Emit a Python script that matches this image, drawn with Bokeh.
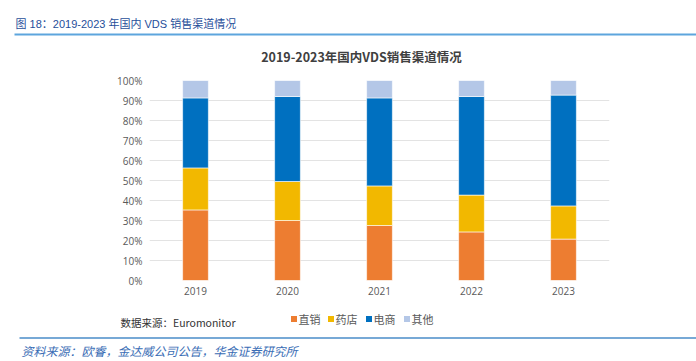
from bokeh.plotting import figure
from bokeh.models import FactorRange, Range1d, NumeralTickFormatter, FixedTicker
from bokeh.core.properties import value
from bokeh.embed import file_html
from bokeh.resources import INLINE

years = ["2019", "2020", "2021", "2022", "2023"]
direct = [35.3, 30.0, 27.5, 24.3, 20.7]
pharmacy = [21.0, 19.5, 19.8, 18.4, 16.6]
ecommerce = [35.0, 42.5, 44.0, 49.3, 55.4]
other = [8.7, 8.0, 8.7, 8.0, 7.3]
series_names = ["直销", "药店", "电商", "其他"]
colors = ["#ED7D31", "#F2B800", "#0070C0", "#B4C7E7"]
y_ticks = [i / 10 for i in range(11)]

header_text = "图 18：2019-2023 年国内 VDS 销售渠道情况"
chart_title = "2019-2023年国内VDS销售渠道情况"
source_text = "数据来源：Euromonitor"
footer_text = "资料来源：欧睿，金达威公司公告，华金证券研究所"

CJK = "Noto Sans CJK SC"
ARIAL_CJK = "'Liberation Sans', 'Noto Sans CJK SC'"
W = 696
H_TOP, H_MID, H_BOT = 70, 232, 57   # canvas bands: 0-70, 70-302, 302-359
Y_MID0 = H_TOP
Y_BOT0 = H_TOP + H_MID


def blank(height, y0):
    f = figure(width=W, height=height, x_range=Range1d(0, W), y_range=Range1d(y0 + height, y0),
               x_axis_type=None, y_axis_type=None, output_backend="svg", toolbar_location=None,
               min_border=0)
    f.outline_line_color = None
    f.grid.visible = False
    return f


def txt(f, x, y, text, size, color, style="normal", align="left", font=CJK):
    f.text(x=[x], y=[y], text=[text], text_font=value(font), text_font_size=size,
           text_color=color, text_font_style=style, text_align=align, text_baseline="middle")


# ---- header band
top = blank(H_TOP, 0)
txt(top, 15, 23, header_text, "11px", "#1F4E9A", font=ARIAL_CJK)
top.segment(x0=[14], y0=[34], x1=[W], y1=[34], line_color="#5DA5DD", line_width=2)
txt(top, 361, 56, chart_title, "12.5px", "#404040", style="bold", align="center")

# ---- chart band
FL, FR = 149, 609
p = figure(width=W, height=H_MID, x_range=FactorRange(*years), y_range=Range1d(0, 1),
           output_backend="svg", toolbar_location=None,
           min_border_left=FL, min_border_right=W - FR, min_border_top=80 - Y_MID0,
           min_border_bottom=Y_MID0 + H_MID - 280)
p.outline_line_color = None

data = {"years": years}
keys = ["direct", "pharmacy", "ecommerce", "other"]
for k, vals in zip(keys, [direct, pharmacy, ecommerce, other]):
    data[k] = [v / 100 for v in vals]
p.vbar_stack(keys, x="years", width=0.28, color=colors, source=data, line_color="white", line_width=0.6)

p.yaxis.ticker = FixedTicker(ticks=y_ticks)
p.yaxis.formatter = NumeralTickFormatter(format="0%")
for ax in (p.xaxis, p.yaxis):
    ax.axis_line_color = None
    ax.major_tick_line_color = None
    ax.minor_tick_line_color = None
    ax.major_tick_out = 0
    ax.major_tick_in = 0
    ax.major_label_text_color = "#595959"
    ax.major_label_text_font = "Open Sans"
    ax.major_label_text_font_size = "10px"
p.yaxis.major_label_standoff = 7
p.xaxis.major_label_standoff = 6
p.xgrid.grid_line_color = None
p.ygrid.grid_line_color = "#E3E3E3"
p.ygrid.grid_line_width = 1

# ---- bottom band
bot = blank(H_BOT, Y_BOT0)
txt(bot, 120, 322, source_text, "10.5px", "#333333")
leg_x = [291, 328, 366, 404]
for name, c, x0 in zip(series_names, colors, leg_x):
    bot.scatter(x=[x0 + 2.5], y=[318.5], marker="square", size=6, fill_color=c, line_color=None)
    txt(bot, x0 + 7, 318, name, "11px", "#595959")
bot.segment(x0=[19], y0=[337.5], x1=[W], y1=[337.5], line_color="#4A8CC8", line_width=1.5)
txt(bot, 21, 350, footer_text, "12px", "#3A6DB5", style="italic")

open("out.html", "w").write(file_html([top, p, bot], INLINE))
